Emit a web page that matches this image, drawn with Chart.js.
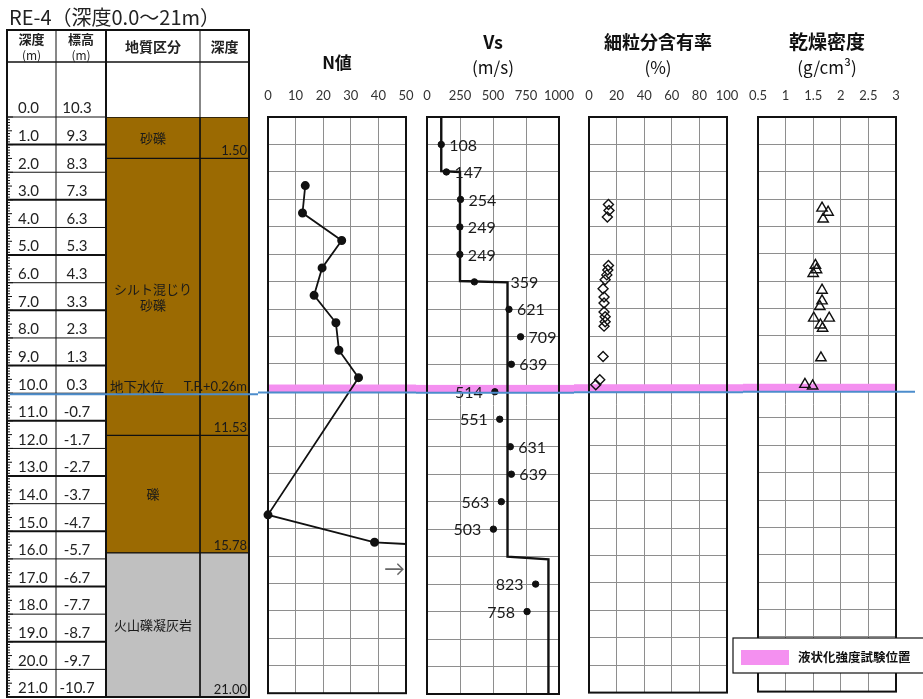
<!DOCTYPE html>
<html>
<head>
<meta charset="utf-8">
<script src="https://cdn.jsdelivr.net/npm/chart.js@4.4.1/dist/chart.umd.min.js"></script>
<style>
  body { margin: 0; background: #fff; width: 923px; height: 699px; overflow: hidden; position: relative; }
  canvas { position: absolute; top: 0; }
</style>
</head>
<body>
<canvas id="logChart" style="left:0" width="258" height="699"></canvas>
<canvas id="nChart" style="left:258px" width="158" height="699"></canvas>
<canvas id="vsChart" style="left:416px" width="158" height="699"></canvas>
<canvas id="fcChart" style="left:574px" width="169" height="699"></canvas>
<canvas id="rhoChart" style="left:725px" width="198" height="699"></canvas>
<script>
// ---- data ----
const depthLabels = ['0.0','1.0','2.0','3.0','4.0','5.0','6.0','7.0','8.0','9.0','10.0','11.0','12.0','13.0','14.0','15.0','16.0','17.0','18.0','19.0','20.0','21.0'];
const elevLabels = ['10.3','9.3','8.3','7.3','6.3','5.3','4.3','3.3','2.3','1.3','0.3','-0.7','-1.7','-2.7','-3.7','-4.7','-5.7','-6.7','-7.7','-8.7','-9.7','-10.7'];

const layerTop = [0, 1.50, 11.53, 15.78];
const layerBottom = [1.50, 11.53, 15.78, 21.00];
const layerNames = [['砂礫'], ['シルト混じり', '砂礫'], ['礫'], ['火山礫凝灰岩']];
const layerBottomLabels = ['1.50', '11.53', '15.78', '21.00'];

const gwlDepth = 10.04;
const gwlText = ['地下水位', 'T.P.+0.26m'];
const testRange = [9.75, 10.02];

const nDepth = [2.5, 3.5, 4.5, 5.5, 6.5, 7.5, 8.5, 9.5, 14.5, 15.5, 16.5];
const nValue = [13.5, 12.5, 26.7, 19.6, 16.7, 24.6, 25.7, 32.8, 0, 38.6, 220];

const vsDepth = [1, 2, 3, 4, 5, 6, 7, 8, 9, 10, 11, 12, 13, 14, 15, 17, 18];
const vsValue = [108, 147, 254, 249, 249, 359, 621, 709, 639, 514, 551, 631, 639, 563, 503, 823, 758];
const vsModelDepth = [0, 1.97, 2.0, 5.97, 6.02, 16.0, 16.1, 21];
const vsModelValue = [108, 108, 250, 250, 610, 610, 920, 920];

const fcDepth = [3.19, 3.41, 3.65, 5.42, 5.58, 5.76, 5.94, 6.27, 6.57, 6.79, 7.11, 7.29, 7.47, 7.63, 8.74, 9.59, 9.77];
const fcValue = [14.1, 14.5, 13.3, 14.1, 13.6, 12.9, 11.7, 10.2, 10.9, 10.9, 10.9, 11.7, 11.7, 10.9, 10.2, 7.8, 4.9];

const rhoDepth = [3.33, 3.48, 3.73, 5.42, 5.58, 5.72, 6.33, 6.72, 6.93, 7.35, 7.35, 7.6, 7.72, 8.8, 9.77, 9.83];
const rhoValue = [1.66, 1.77, 1.68, 1.54, 1.56, 1.50, 1.66, 1.66, 1.62, 1.51, 1.79, 1.63, 1.67, 1.64, 1.35, 1.49];

// ---- style ----
const LAT = "Lato, 'Noto Sans CJK JP', sans-serif";
const JP = "'Noto Sans CJK JP', sans-serif";
const GRID = '#8e8e8e';
const PINK = '#f490f0';
const BLUE = '#4c8dcc';
const BROWN = '#9b6a02';
const ROCK = '#c0c0c0';
const COLS = [0, 49, 99, 193, 242]; // table column edges in log chart x units

Chart.defaults.font.family = LAT;

function pairs(xs, ys) { return xs.map((x, i) => ({ x: x, y: ys[i] })); }

function panelOptions(min, max, step, pad) {
  return {
    responsive: false,
    animation: false,
    devicePixelRatio: 1,
    layout: { padding: { left: pad[0], right: pad[1], top: 0, bottom: 2 } },
    plugins: { legend: { display: false }, tooltip: { enabled: false } },
    scales: {
      x: {
        type: 'linear', position: 'top', min: min, max: max,
        afterFit: s => { s.height = 117; s.paddingLeft = 0; s.paddingRight = 0; },
        ticks: { stepSize: step, padding: 13, color: '#333', font: { size: 13 }, maxRotation: 0, autoSkip: false,
                 callback: v => String(v) },
        grid: { color: GRID, lineWidth: 1, drawTicks: false },
        border: { display: false }
      },
      y: {
        type: 'linear', reverse: true, min: 0, max: 21,
        afterFit: s => { s.width = 0; s.paddingTop = 0; s.paddingBottom = 0; },
        ticks: { stepSize: 1, display: false },
        grid: { color: GRID, lineWidth: 1, drawTicks: false },
        border: { display: false }
      }
    }
  };
}

// pink band, frame, titles, groundwater line
function panelPlugin(o) {
  return {
    id: 'panelDeco',
    beforeDatasetsDraw(chart) {
      const { ctx, chartArea: a, scales: { y } } = chart;
      const y0 = y.getPixelForValue(testRange[0]), y1 = y.getPixelForValue(testRange[1]);
      const xr = o.pink(a, chart.width);
      ctx.save();
      ctx.fillStyle = PINK;
      ctx.fillRect(xr[0], y0, xr[1] - xr[0], y1 - y0);
      ctx.restore();
    },
    afterDatasetsDraw(chart) {
      const { ctx, chartArea: a } = chart;
      ctx.save();
      ctx.strokeStyle = '#111';
      ctx.lineWidth = 2;
      ctx.strokeRect(a.left, a.top, a.right - a.left, a.bottom - a.top);
      ctx.restore();
    },
    afterDraw(chart) {
      const { ctx, chartArea: a, scales: { y } } = chart;
      const cx = (a.left + a.right) / 2;
      ctx.save();
      ctx.fillStyle = '#111';
      ctx.textAlign = 'center';
      ctx.textBaseline = 'middle';
      ctx.font = 'bold ' + o.titleSize + 'px ' + JP;
      ctx.fillText(o.title, cx, o.titleY);
      if (o.sub) {
        ctx.font = '17px ' + JP;
        ctx.fillText(o.sub, cx, 68);
      }
      if (o.extra) o.extra(chart);
      const gy = y.getPixelForValue(gwlDepth);
      const xr = o.blue(a, chart.width);
      ctx.strokeStyle = BLUE;
      ctx.lineWidth = 2;
      ctx.beginPath();
      ctx.moveTo(xr[0], gy);
      ctx.lineTo(xr[1], gy);
      ctx.stroke();
      ctx.restore();
    }
  };
}

// ---- left log table ----
const logPlugin = {
  id: 'logTable',
  afterDatasetsDraw(chart) {
    const { ctx } = chart;
    const X = v => chart.scales.x.getPixelForValue(v);
    const Y = d => chart.scales.y.getPixelForValue(d);
    const top = 30, hdr = 62, bot = Y(21);
    const line = (x0, y0, x1, y1, w) => {
      ctx.lineWidth = w;
      ctx.beginPath(); ctx.moveTo(x0, y0); ctx.lineTo(x1, y1); ctx.stroke();
    };
    ctx.save();
    ctx.strokeStyle = '#111';
    // title
    ctx.fillStyle = '#222';
    ctx.textBaseline = 'middle';
    ctx.textAlign = 'left';
    ctx.font = '20px ' + JP;
    ctx.fillText('RE-4（深度0.0～21m）', 9, 17);
    // row lines in depth / elevation columns
    depthLabels.forEach((lab, i) => {
      line(X(COLS[0]), Y(i), X(COLS[2]), Y(i), i % 2 ? 2 : 1);
    });
    // ruler ticks at the left edge
    for (let k = 0; k <= 210; k++) {
      const len = k % 10 === 0 ? 6 : (k % 5 === 0 ? 5 : 3);
      line(X(COLS[0]), Y(k / 10), X(COLS[0]) + len, Y(k / 10), 1);
    }
    // header + column lines
    line(X(COLS[0]), hdr, X(COLS[4]), hdr, 1.5);
    line(X(COLS[1]), top, X(COLS[1]), bot, 1);
    line(X(COLS[2]), top, X(COLS[2]), bot, 2);
    line(X(COLS[3]), top, X(COLS[3]), bot, 1);
    ctx.lineWidth = 2;
    ctx.strokeRect(X(COLS[0]), top, X(COLS[4]) - X(COLS[0]), bot - top);
    // header texts
    ctx.textAlign = 'center';
    ctx.font = 'bold 13px ' + JP;
    const c1 = (X(COLS[0]) + X(COLS[1])) / 2, c2 = (X(COLS[1]) + X(COLS[2])) / 2;
    const c3 = (X(COLS[2]) + X(COLS[3])) / 2, c4 = (X(COLS[3]) + X(COLS[4])) / 2;
    ctx.fillText('深度', c1, 39); ctx.fillText('標高', c2, 39);
    ctx.font = '12px ' + JP;
    ctx.fillText('(m)', c1, 55); ctx.fillText('(m)', c2, 55);
    ctx.font = 'bold 14px ' + JP;
    ctx.fillText('地質区分', c3, 47); ctx.fillText('深度', c4, 47);
    // depth & elevation labels
    ctx.textBaseline = 'bottom';
    ctx.font = '15px ' + LAT;
    depthLabels.forEach((lab, i) => {
      ctx.textAlign = 'left';
      ctx.fillText(lab, 18, Y(i) - 1);
      ctx.textAlign = 'center';
      ctx.fillText(elevLabels[i], c2 - 4, Y(i) - 1);
    });
    // layer names and bottom depths
    ctx.fillStyle = '#1a1a1a';
    layerNames.forEach((names, i) => {
      const mid = (Y(layerTop[i]) + Y(layerBottom[i])) / 2;
      ctx.textAlign = 'center';
      ctx.textBaseline = 'middle';
      ctx.font = '13px ' + JP;
      names.forEach((t, j) => ctx.fillText(t, c3, mid + (j - (names.length - 1) / 2) * 16));
      ctx.textAlign = 'right';
      ctx.textBaseline = 'bottom';
      ctx.font = '13px ' + LAT;
      ctx.fillText(layerBottomLabels[i], X(COLS[4]) - 2, Y(layerBottom[i]) - 1);
    });
    // groundwater label
    const gy = Y(gwlDepth);
    ctx.textBaseline = 'bottom';
    ctx.textAlign = 'left';
    ctx.font = '13.5px ' + JP;
    ctx.fillText(gwlText[0], X(COLS[2]) + 4, gy - 1);
    ctx.textAlign = 'right';
    ctx.font = '13px ' + LAT;
    ctx.fillText(gwlText[1], X(COLS[4]) - 2, gy - 1);
    // groundwater line
    ctx.strokeStyle = BLUE;
    line(10, gy, chart.width, gy, 2);
    ctx.restore();
  }
};

new Chart(document.getElementById('logChart'), {
  type: 'bar',
  data: {
    datasets: [
      {
        data: layerTop.map((t, i) => ({ x: (COLS[2] + COLS[3]) / 2, y: [t, layerBottom[i]] })),
        barThickness: COLS[3] - COLS[2], grouped: false,
        backgroundColor: [BROWN, BROWN, BROWN, ROCK], borderColor: '#111', borderWidth: 1, borderSkipped: false
      },
      {
        data: layerTop.map((t, i) => ({ x: (COLS[3] + COLS[4]) / 2, y: [t, layerBottom[i]] })),
        barThickness: COLS[4] - COLS[3], grouped: false,
        backgroundColor: [BROWN, BROWN, BROWN, ROCK], borderColor: '#111', borderWidth: 1, borderSkipped: false
      }
    ]
  },
  options: {
    responsive: false,
    animation: false,
    devicePixelRatio: 1,
    layout: { padding: { left: 7, right: 9, top: 117, bottom: 2 } },
    plugins: { legend: { display: false }, tooltip: { enabled: false } },
    scales: {
      x: { type: 'linear', min: COLS[0], max: COLS[4], display: false, offset: false },
      y: { type: 'linear', reverse: true, min: 0, max: 21, display: false }
    }
  },
  plugins: [logPlugin]
});

// ---- N value ----
new Chart(document.getElementById('nChart'), {
  type: 'scatter',
  data: {
    datasets: [{
      data: pairs(nValue, nDepth),
      showLine: true, borderColor: '#111', borderWidth: 1.8,
      pointRadius: 3.6, pointBackgroundColor: '#111', pointBorderColor: '#111',
      clip: { left: 6, top: 6, right: 0, bottom: 6 }
    }]
  },
  options: panelOptions(0, 50, 10, [10, 10]),
  plugins: [panelPlugin({
    title: 'N値', titleSize: 17, titleY: 63,
    pink: (a, w) => [a.left, w],
    blue: (a, w) => [0, w],
    extra: chart => {
      const { ctx, chartArea: a, scales: { y } } = chart;
      ctx.fillStyle = '#666';
      ctx.font = '21px ' + LAT;
      ctx.textAlign = 'right';
      ctx.fillText('→', a.right - 1, y.getPixelForValue(nDepth[nDepth.length - 1]));
      ctx.fillStyle = '#111';
    }
  })]
});

// ---- Vs ----
const vsLabelDx = [8, 8, 8, 8, 8, 36, 8, 8, 8, -12, -12, 8, 8, -12, -12, -12, -12];
new Chart(document.getElementById('vsChart'), {
  type: 'scatter',
  data: {
    datasets: [
      {
        data: pairs(vsModelValue, vsModelDepth),
        showLine: true, borderColor: '#111', borderWidth: 2.4, pointRadius: 0
      },
      {
        data: pairs(vsValue, vsDepth),
        showLine: false, pointRadius: 3.2, pointBackgroundColor: '#111', pointBorderColor: '#111'
      }
    ]
  },
  options: panelOptions(0, 1000, 250, [11, 15]),
  plugins: [panelPlugin({
    title: 'Vs', titleSize: 18, titleY: 42, sub: '(m/s)',
    pink: (a, w) => [0, w],
    blue: (a, w) => [0, w],
    extra: chart => {
      const { ctx } = chart;
      const meta = chart.getDatasetMeta(1);
      ctx.fillStyle = '#1a1a1a';
      ctx.font = '16px ' + LAT;
      ctx.textBaseline = 'middle';
      meta.data.forEach((pt, i) => {
        const dx = vsLabelDx[i];
        ctx.textAlign = dx > 0 ? 'left' : 'right';
        ctx.fillText(String(vsValue[i]), pt.x + dx, pt.y + 1);
      });
      ctx.fillStyle = '#111';
    }
  })]
});

// ---- fines content ----
new Chart(document.getElementById('fcChart'), {
  type: 'scatter',
  data: {
    datasets: [{
      data: pairs(fcValue, fcDepth),
      pointStyle: 'rectRot', pointRadius: 5, pointBorderWidth: 1.4,
      pointBackgroundColor: 'rgba(255,255,255,0)', pointBorderColor: '#111'
    }]
  },
  options: panelOptions(0, 100, 20, [15, 16]),
  plugins: [panelPlugin({
    title: '細粒分含有率', titleSize: 18, titleY: 42, sub: '(%)',
    pink: (a, w) => [0, w],
    blue: (a, w) => [0, w]
  })]
});

// ---- dry density ----
new Chart(document.getElementById('rhoChart'), {
  type: 'scatter',
  data: {
    datasets: [{
      data: pairs(rhoValue, rhoDepth),
      pointStyle: 'triangle', pointRadius: 6, pointBorderWidth: 1.4,
      pointBackgroundColor: 'rgba(255,255,255,0)', pointBorderColor: '#111'
    }]
  },
  options: panelOptions(0.5, 3, 0.5, [33, 27]),
  plugins: [panelPlugin({
    title: '乾燥密度', titleSize: 19, titleY: 42, sub: '(g/cm³)',
    pink: (a, w) => [18, a.right],
    blue: (a, w) => [18, 190],
    extra: chart => {
      const { ctx } = chart;
      // legend box
      ctx.fillStyle = '#fff';
      ctx.fillRect(8, 638, 200, 35);
      ctx.strokeStyle = '#111';
      ctx.lineWidth = 1.2;
      ctx.strokeRect(8, 638, 200, 35);
      ctx.fillStyle = PINK;
      ctx.fillRect(16, 650, 48, 15);
      ctx.fillStyle = '#111';
      ctx.font = 'bold 12.5px ' + JP;
      ctx.textAlign = 'left';
      ctx.textBaseline = 'middle';
      ctx.fillText('液状化強度試験位置', 73, 657);
    }
  })]
});
</script>
</body>
</html>
